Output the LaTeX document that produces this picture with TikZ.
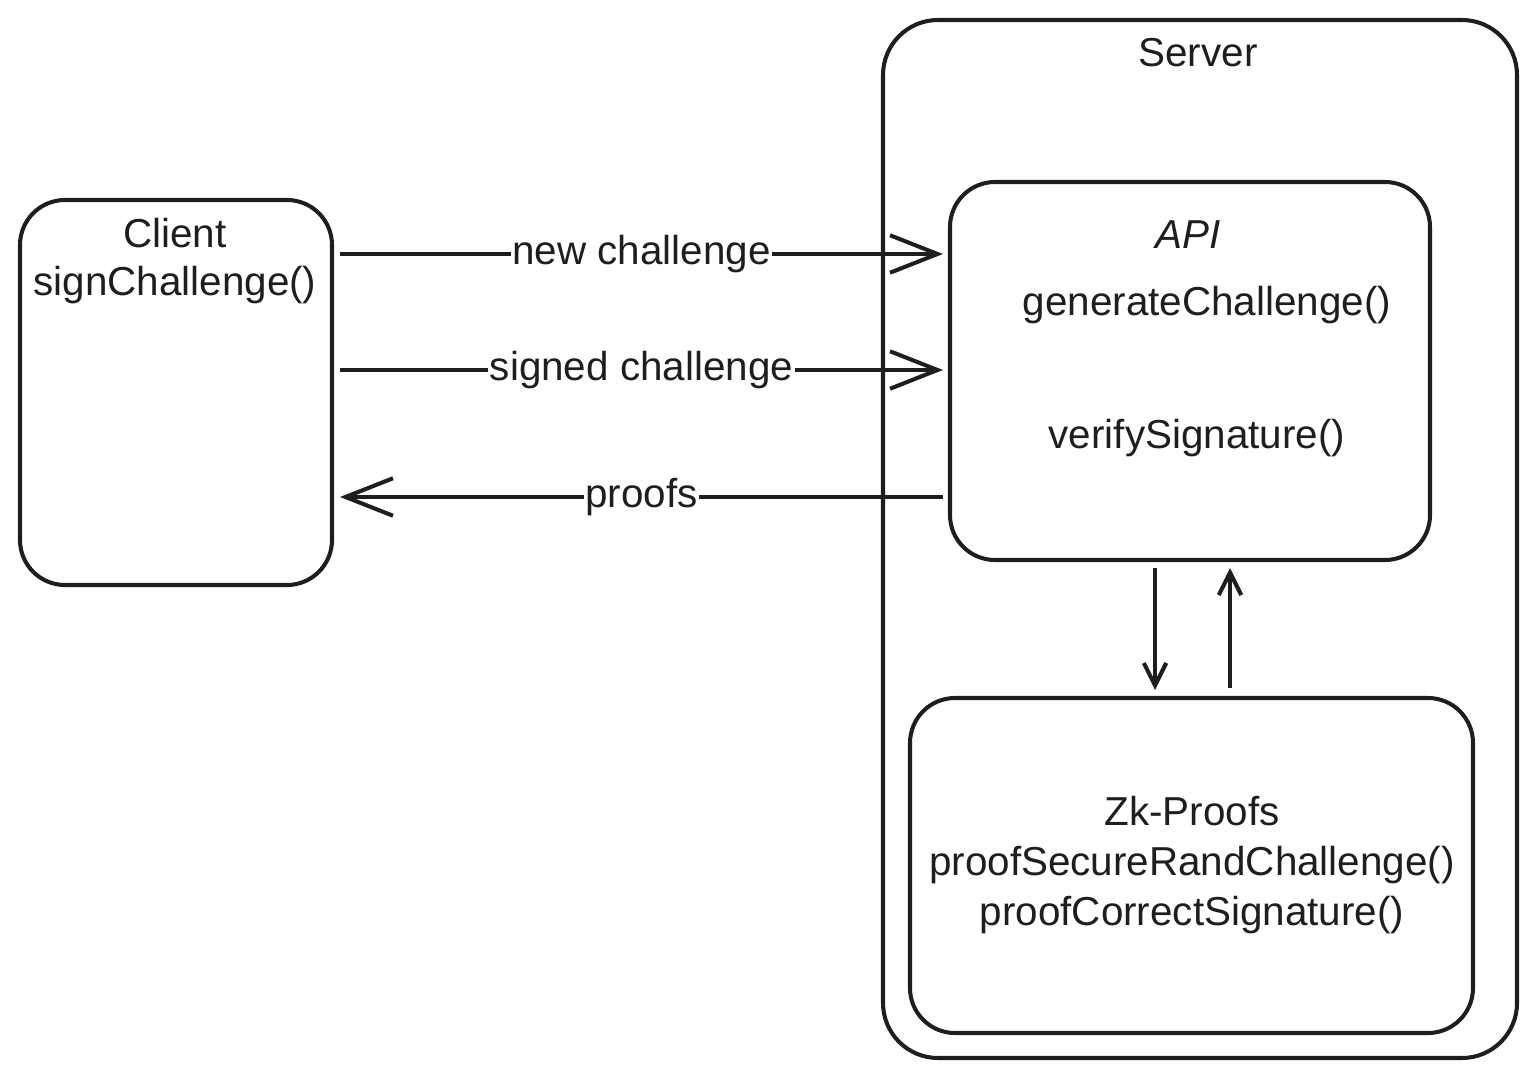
\documentclass[tikz,border=0pt]{standalone}
\usepackage{fontspec}
\setmainfont{Liberation Sans}
\usetikzlibrary{arrows.meta}
\definecolor{myink}{RGB}{30, 30, 30}

\begin{document}
\begin{tikzpicture}[x=0.02cm, y=-0.02cm, line width=2.3pt, draw=myink, text=myink,
    font=\fontsize{23}{28.5}\selectfont,
    box/.style={draw=myink, line width=2.3pt, rounded corners=0.9cm},
    txt/.style={inner sep=0pt, align=center},
    link/.style={-{Straight Barb[length=0.95cm, width=0.75cm, line width=2.3pt]}},
    inner/.style={-{Straight Barb[length=0.45cm, width=0.45cm, line width=2.3pt]}},
    lbl/.style={fill=white, inner sep=1pt}]
        \useasboundingbox (0,0) rectangle (1535,1078);
        \def\ya{254}
        \def\yb{370}
        \def\yc{497}

        % Client
        \draw[box] (20,200) rectangle (332,585);
        \node[txt] (client) at (175,233) {Client};
        \node[txt] (sign) at (175,285) {signChallenge()};

        % Server
        \draw[box, rounded corners=1.1cm] (883,20) rectangle (1517,1058);
        \node[txt] (server) at (1198,53) {Server};

        % API
        \draw[box] (950,182) rectangle (1430,560);
        \node[txt] (api) at (1188,235) {\textit{API}};
        \node[txt] (gen) at (1207,305) {generateChallenge()};
        \node[txt] (verify) at (1197,438) {verifySignature()};

        % Zk-Proofs
        \draw[box] (910,698) rectangle (1473,1033);
        \node[txt] (zk) at (1192,865) {Zk-Proofs\\proofSecureRandChallenge()\\proofCorrectSignature()};

        % Messages
        \coordinate (c1) at (340,\ya);
        \coordinate (s1) at (943,\ya);
        \coordinate (c2) at (340,\yb);
        \coordinate (s2) at (943,\yb);
        \coordinate (c3) at (340,\yc);
        \coordinate (s3) at (943,\yc);
        \draw[link] (c1) -- node[lbl] {new challenge} (s1);
        \draw[link] (c2) -- node[lbl] {signed challenge} (s2);
        \draw[link] (s3) -- node[lbl] {proofs} (c3);

        % API <-> Zk-Proofs
        \coordinate (a1) at (1155,568);
        \coordinate (z1) at (1155,690);
        \coordinate (z2) at (1230,688);
        \coordinate (a2) at (1230,568);
        \draw[inner] (a1) -- (z1);
        \draw[inner] (z2) -- (a2);
    \end{tikzpicture}
\end{document}
